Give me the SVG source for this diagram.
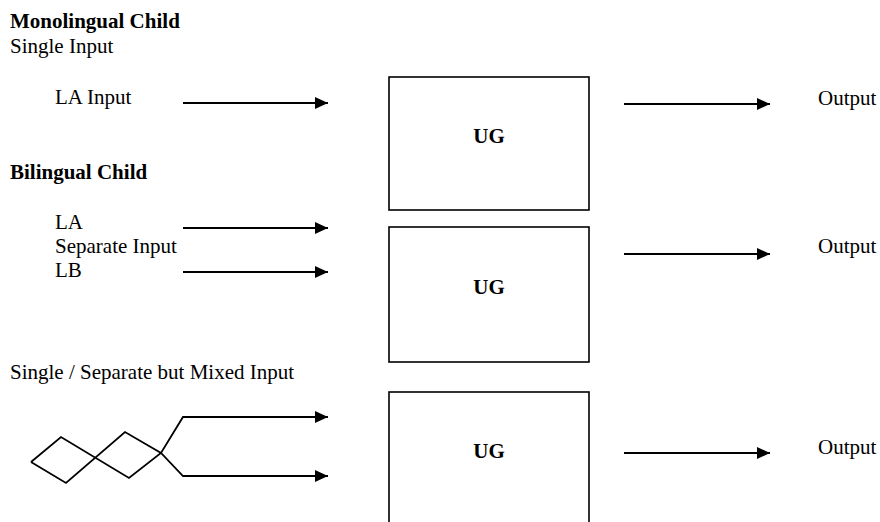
<svg xmlns="http://www.w3.org/2000/svg" width="880" height="522" viewBox="0 0 880 522">
<style>
text{font-family:"Liberation Serif","Times New Roman",serif;font-size:21px;fill:#000}
.b{font-weight:bold}
.box{fill:#fff;stroke:#000;stroke-width:1.6}
.ln{fill:none;stroke:#000;stroke-width:1.8}
</style>
<defs>
<marker id="ah" markerUnits="userSpaceOnUse" markerWidth="14" markerHeight="12" refX="13" refY="6" orient="auto">
<path d="M0,0 L13,6 L0,12 Z" fill="#000"/>
</marker>
</defs>
<rect width="880" height="522" fill="#fff"/>
<g id="labels">
<text x="10" y="28" class="b">Monolingual Child</text>
<text x="10" y="53">Single Input</text>
<text x="55" y="104">LA Input</text>
<text x="10" y="179" class="b">Bilingual Child</text>
<text x="55" y="229">LA</text>
<text x="55" y="253">Separate Input</text>
<text x="55" y="277">LB</text>
<text x="10" y="379">Single / Separate but Mixed Input</text>
</g>
<g id="ug1"><rect class="box" x="389" y="77" width="200" height="133"/><text x="489" y="143" class="b" text-anchor="middle">UG</text></g>
<g id="ug2"><rect class="box" x="389" y="227" width="200" height="135"/><text x="489" y="294" class="b" text-anchor="middle">UG</text></g>
<g id="ug3"><rect class="box" x="389" y="392" width="200" height="140"/><text x="489" y="458" class="b" text-anchor="middle">UG</text></g>
<g id="out1"><text x="818" y="105">Output</text></g>
<g id="out2"><text x="818" y="253">Output</text></g>
<g id="out3"><text x="818" y="454">Output</text></g>
<g id="connectors">
<line class="ln" x1="183" y1="103" x2="328" y2="103" marker-end="url(#ah)"/>
<line class="ln" x1="183" y1="228" x2="328" y2="228" marker-end="url(#ah)"/>
<line class="ln" x1="183" y1="272" x2="328" y2="272" marker-end="url(#ah)"/>
<path class="ln" d="M31,462 L61,437 L129,478 L161,453 L183,417 L328,417" marker-end="url(#ah)"/>
<path class="ln" d="M31,462 L66,483 L125,432 L161,453 L183,476 L328,476" marker-end="url(#ah)"/>
<line class="ln" x1="624" y1="104" x2="770" y2="104" marker-end="url(#ah)"/>
<line class="ln" x1="624" y1="254" x2="770" y2="254" marker-end="url(#ah)"/>
<line class="ln" x1="624" y1="453" x2="770" y2="453" marker-end="url(#ah)"/>
</g>
</svg>
